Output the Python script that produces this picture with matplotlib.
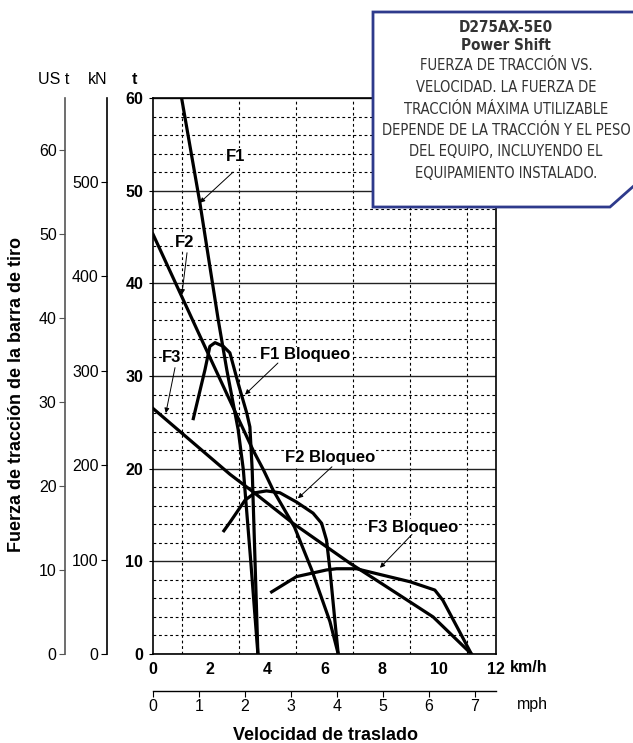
import matplotlib
matplotlib.use('Agg')
import matplotlib.pyplot as plt
from matplotlib import font_manager as fm
from matplotlib.patches import Polygon

plt.rcParams['font.family'] = ['Liberation Sans', 'DejaVu Sans']

# drawbar pull curves, speed in km/h, pull in t
f1_kmh = [1.0, 1.64, 2.28, 2.58, 2.98, 3.16, 3.42, 3.67]
f1_t = [60, 48.7, 36.1, 30.7, 24.2, 19.9, 10.0, 0]

f1_lock_kmh = [1.41, 1.82, 1.99, 2.17, 2.46, 2.69, 2.98, 3.28, 3.39, 3.47, 3.67]
f1_lock_t = [25.4, 30.7, 33.2, 33.6, 33.2, 32.5, 29.2, 26.0, 24.5, 19.9, 0]

f2_kmh = [0, 1.6, 3.0, 3.5, 3.86, 4.2, 4.95, 5.55, 6.19, 6.48]
f2_t = [45.3, 34.6, 25.3, 22.0, 19.9, 17.7, 13.7, 9.1, 3.5, 0]

f2_lock_kmh = [2.48, 2.69, 3.22, 3.57, 3.97, 4.44, 5.02, 5.6, 5.9, 6.07, 6.19, 6.36, 6.48]
f2_lock_t = [13.3, 14.2, 16.6, 17.4, 17.6, 17.4, 16.4, 15.2, 14.1, 12.3, 9.1, 3.7, 0]

f3_kmh = [0, 2.69, 3.5, 4.9, 6.89, 8.0, 9.8, 11.14]
f3_t = [26.5, 19.4, 17.5, 14.1, 9.8, 7.6, 4.0, 0]

f3_lock_kmh = [4.15, 5.02, 6.07, 6.42, 7.12, 8.05, 8.99, 9.86, 10.14, 11.14]
f3_lock_t = [6.7, 8.35, 9.07, 9.2, 9.2, 8.5, 7.8, 6.9, 5.8, 0]

curves = [(f1_kmh, f1_t), (f1_lock_kmh, f1_lock_t), (f2_kmh, f2_t),
          (f2_lock_kmh, f2_lock_t), (f3_kmh, f3_t), (f3_lock_kmh, f3_lock_t)]

labels = ['F1', 'F2', 'F3', 'F1 Bloqueo', 'F2 Bloqueo', 'F3 Bloqueo']

kmh_ticks = list(range(0, 13, 2))
t_ticks = list(range(0, 61, 10))
kn_ticks = list(range(0, 501, 100))
ust_ticks = list(range(0, 61, 10))
mph_ticks = list(range(0, 8))

title_lines = ['D275AX-5E0', 'Power Shift']
note_lines = ['FUERZA DE TRACCIÓN VS.',
              'VELOCIDAD. LA FUERZA DE',
              'TRACCIÓN MÁXIMA UTILIZABLE',
              'DEPENDE DE LA TRACCIÓN Y EL PESO',
              'DEL EQUIPO, INCLUYENDO EL',
              'EQUIPAMIENTO INSTALADO.']

W, H = 633, 743
fig = plt.figure(figsize=(W / 100, H / 100), dpi=100)


def fx(px):
    return px / W


def fy(py):
    return 1 - py / H


def condensed_font(bold):
    # look for any narrow / condensed face that is installed
    for f in fm.fontManager.ttflist:
        cond = ('Condensed' in f.name or 'Narrow' in f.name
                or str(f.stretch) in ('condensed', 'semi-condensed', 'extra-condensed'))
        if not cond or f.style != 'normal':
            continue
        w = f.weight if isinstance(f.weight, int) else fm.weight_dict.get(f.weight, 400)
        if (w >= 600) == bold and 300 <= w <= 700:
            return fm.FontProperties(fname=f.fname)
    return None


ax = fig.add_axes([fx(153), fy(654), fx(496) - fx(153), fy(98) - fy(654)])

for x, y in curves:
    ax.plot(x, y, color='black', lw=2.3, solid_joinstyle='round', zorder=4)

ax.set_xlim(0, 12)
ax.set_ylim(0, 60)

# grid: dashed every 1 km/h and 2 t, solid every 10 t
ax.set_xticks(kmh_ticks)
ax.set_xticks(range(0, 13), minor=True)
ax.set_yticks(t_ticks)
ax.set_yticks(range(0, 61, 2), minor=True)
ax.grid(axis='x', which='minor', ls=(0, (2.5, 2.5)), lw=0.8, color='black')
ax.grid(axis='y', which='minor', ls=(0, (2.5, 2.5)), lw=0.8, color='black')
ax.grid(axis='y', which='major', ls='-', lw=1.0, color='#222222')
ax.set_axisbelow(True)
ax.tick_params(axis='both', which='minor', length=0)
ax.tick_params(axis='x', which='major', length=0, pad=6)
ax.tick_params(axis='y', which='major', length=3, pad=4)
ax.set_xticklabels([str(v) for v in kmh_ticks], fontsize=11.5, fontweight='bold')
ax.set_yticklabels([str(v) for v in t_ticks], fontsize=11.5, fontweight='bold')
for s in ax.spines.values():
    s.set_linewidth(1.2)

# curve labels and arrows
lab_pos = [(2.9, 53.7), (1.12, 44.4), (0.66, 32.0), (5.31, 32.3), (6.19, 21.2), (9.09, 13.7)]
arr_from = [(2.8, 52.0), (1.19, 43.3), (0.77, 30.9), (4.37, 31.4), (6.26, 20.2), (9.06, 12.9)]
arr_to = [(1.64, 48.7), (1.01, 38.8), (0.45, 26.0), (3.22, 28.0), (5.07, 16.8), (7.94, 9.3)]
for lab, p, a, b in zip(labels, lab_pos, arr_from, arr_to):
    ax.text(p[0], p[1], lab, fontsize=12, fontweight='bold', ha='center', va='center',
            zorder=5, bbox=dict(facecolor='white', edgecolor='none', pad=0.5))
    ax.annotate('', xy=b, xytext=a, zorder=5,
                arrowprops=dict(arrowstyle='-|>', lw=0.7, color='black',
                                mutation_scale=7, shrinkA=0, shrinkB=0))

# extra y scales: US t and kN
ax_us = ax.twinx()
ax_kn = ax.twinx()
for a2, px, top, ticks, col in [(ax_us, 65, 60 * 1.10231, ust_ticks, '#555555'),
                                 (ax_kn, 107, 60 * 9.80665, kn_ticks, 'black')]:
    a2.set_ylim(0, top)
    for s in a2.spines.values():
        s.set_visible(False)
    a2.spines['left'].set_visible(True)
    a2.spines['left'].set_position(('axes', (px - 153) / 343))
    a2.spines['left'].set_color(col)
    a2.spines['left'].set_linewidth(1.2)
    a2.yaxis.set_ticks_position('left')
    a2.set_yticks(ticks)
    a2.set_yticklabels([str(v) for v in ticks], fontsize=11.5)
    a2.tick_params(axis='y', length=4, pad=2, color=col)

# speed in mph below
ax_mph = ax.twiny()
ax_mph.set_xlim(0, 12 / 1.609344)
for s in ax_mph.spines.values():
    s.set_visible(False)
ax_mph.spines['bottom'].set_visible(True)
ax_mph.spines['bottom'].set_position(('axes', -37 / 556))
ax_mph.spines['bottom'].set_linewidth(1.0)
ax_mph.xaxis.set_ticks_position('bottom')
ax_mph.set_xticks(mph_ticks)
ax_mph.set_xticklabels([str(v) for v in mph_ticks], fontsize=11.5)
ax_mph.tick_params(axis='x', length=4, pad=2)

# unit labels
fig.text(fx(54), fy(79), 'US t', fontsize=11.5, ha='center', va='center')
fig.text(fx(98), fy(79), 'kN', fontsize=11.5, ha='center', va='center')
fig.text(fx(134), fy(79), 't', fontsize=11.5, fontweight='bold', ha='center', va='center')
fig.text(fx(529), fy(668), 'km/h', fontsize=11.5, fontweight='bold', ha='center', va='center')
fig.text(fx(532), fy(705), 'mph', fontsize=11.5, ha='center', va='center')

fig.text(fx(326), fy(735), 'Velocidad de traslado', fontsize=13, fontweight='bold',
         ha='center', va='center')
fig.text(fx(17), fy(395), 'Fuerza de tracción de la barra de tiro', fontsize=13,
         fontweight='bold', rotation=90, ha='center', va='center')

# title box top right
box = [(373, 12), (645, 12), (645, 176), (610, 207), (373, 207)]
fig.patches.append(Polygon([(fx(x), fy(y)) for x, y in box], closed=True,
                           transform=fig.transFigure, facecolor='white',
                           edgecolor='#2e3a8c', lw=2, zorder=10))

reg_fp = condensed_font(False)
bold_fp = condensed_font(True)
cx = fx(506)
head = []
for i, line in enumerate(title_lines):
    kw = dict(fontproperties=bold_fp) if bold_fp else dict(family='Liberation Sans', fontweight='bold')
    head.append(fig.text(cx, fy(27 + 18 * i), line, color='#333333', ha='center',
                         va='center', zorder=11, **kw))
body = []
for i, line in enumerate(note_lines):
    kw = dict(fontproperties=reg_fp) if reg_fp else dict(family='Liberation Sans')
    body.append(fig.text(cx, fy(66 + 21.5 * i), line, color='#333333', ha='center',
                         va='center', zorder=11, **kw))

# size box text so it fills the box like the original
renderer = fig.canvas.get_renderer()
for group, target in [(head, 94), (body, 250)]:
    for t in group:
        t.set_fontsize(12)
    widest = max(t.get_window_extent(renderer).width for t in group)
    size = min(12 * target / widest, 13)
    for t in group:
        t.set_fontsize(size)

fig.savefig('out.png', dpi=100)
